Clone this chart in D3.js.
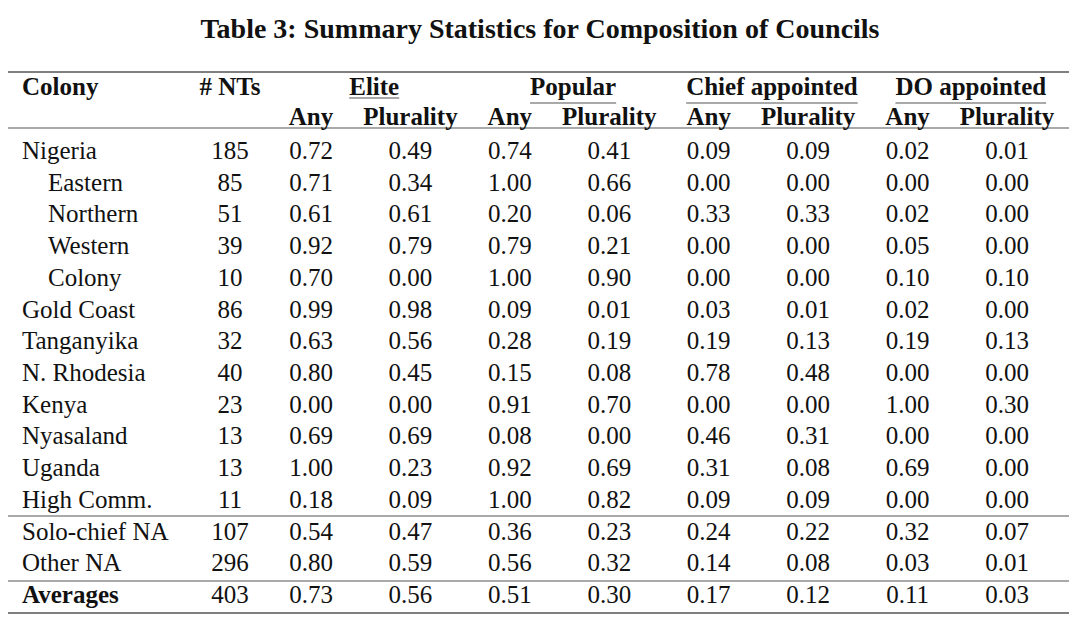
<!DOCTYPE html>
<html><head><meta charset="utf-8">
<script src="https://cdn.jsdelivr.net/npm/d3@7"></script>
<style>body{margin:0;background:#fff}svg{display:block}text{font-family:"Liberation Serif","Times New Roman",serif;fill:#111}</style>
</head><body><svg id="c" width="1080" height="622"></svg>
<script>
const title = "Table 3: Summary Statistics for Composition of Councils";
const groups = ["Elite","Popular","Chief appointed","DO appointed"];
const subHeaders = ["Any","Plurality"];
const colonies = ["Nigeria","Eastern","Northern","Western","Colony","Gold Coast","Tanganyika","N. Rhodesia","Kenya","Nyasaland","Uganda","High Comm.","Solo-chief NA","Other NA","Averages"];
const indented = ["Eastern","Northern","Western","Colony"];
const nts = [185,85,51,39,10,86,32,40,23,13,13,11,107,296,403];
const eliteAny = [0.72,0.71,0.61,0.92,0.70,0.99,0.63,0.80,0.00,0.69,1.00,0.18,0.54,0.80,0.73];
const elitePlur = [0.49,0.34,0.61,0.79,0.00,0.98,0.56,0.45,0.00,0.69,0.23,0.09,0.47,0.59,0.56];
const popAny = [0.74,1.00,0.20,0.79,1.00,0.09,0.28,0.15,0.91,0.08,0.92,1.00,0.36,0.56,0.51];
const popPlur = [0.41,0.66,0.06,0.21,0.90,0.01,0.19,0.08,0.70,0.00,0.69,0.82,0.23,0.32,0.30];
const chiefAny = [0.09,0.00,0.33,0.00,0.00,0.03,0.19,0.78,0.00,0.46,0.31,0.09,0.24,0.14,0.17];
const chiefPlur = [0.09,0.00,0.33,0.00,0.00,0.01,0.13,0.48,0.00,0.31,0.08,0.09,0.22,0.08,0.12];
const doAny = [0.02,0.00,0.02,0.05,0.10,0.02,0.19,0.00,1.00,0.00,0.69,0.00,0.32,0.03,0.11];
const doPlur = [0.01,0.00,0.00,0.00,0.10,0.00,0.13,0.00,0.30,0.00,0.00,0.00,0.07,0.01,0.03];
const valueCols = [eliteAny,elitePlur,popAny,popPlur,chiefAny,chiefPlur,doAny,doPlur];

const svg = d3.select("#c");
const fs = 25;
const x = d3.scalePoint().domain(d3.range(8)).range([311,1007]);
const y = d3.scalePoint().domain(d3.range(colonies.length)).range([151,595]);
const left = 8, right = 1069, colonyX = 22, indentX = 48, ntX = 230;
const lineColor = "#555";

svg.append("text").attr("x",540).attr("y",38).attr("text-anchor","middle")
  .style("font-size","28px").style("font-weight","bold").text(title);

function hline(yy, w, x1=left, x2=right){
  svg.append("line").attr("x1",x1).attr("x2",x2).attr("y1",yy).attr("y2",yy)
    .attr("stroke",lineColor).attr("stroke-width",w);
}
hline(72,1.6);
hline(128,1.1);
hline(516,1.1);
hline(581,1.1);
hline(613,1.6);

const bold = (sel)=>sel.style("font-size",fs+"px").style("font-weight","bold");
bold(svg.append("text").attr("x",colonyX).attr("y",95)).text("Colony");
bold(svg.append("text").attr("x",ntX).attr("y",95).attr("text-anchor","middle")).text("# NTs");

groups.forEach((g,i)=>{
  const cx = (x(2*i)+x(2*i+1))/2 + 13.5;
  const t = bold(svg.append("text").attr("x",cx).attr("y",95).attr("text-anchor","middle")).text(g);
  const w = t.node().getComputedTextLength();
  const ly = i===0 ? 98 : 103;
  svg.append("line").attr("x1",cx-w/2).attr("x2",cx+w/2).attr("y1",ly).attr("y2",ly)
    .attr("stroke",lineColor).attr("stroke-width",1.1);
  subHeaders.forEach((s,j)=>{
    bold(svg.append("text").attr("x",x(2*i+j)).attr("y",125).attr("text-anchor","middle")).text(s);
  });
});

colonies.forEach((c,r)=>{
  const yy = y(r)+8;
  const t = svg.append("text").attr("x",indented.includes(c)?indentX:colonyX).attr("y",yy)
    .style("font-size",fs+"px").text(c);
  if(c==="Averages") t.style("font-weight","bold");
  svg.append("text").attr("x",ntX).attr("y",yy).attr("text-anchor","middle").style("font-size",fs+"px").text(nts[r]);
  valueCols.forEach((col,k)=>{
    svg.append("text").attr("x",x(k)).attr("y",yy).attr("text-anchor","middle")
      .style("font-size",fs+"px").text(d3.format(".2f")(col[r]));
  });
});
</script></body></html>
